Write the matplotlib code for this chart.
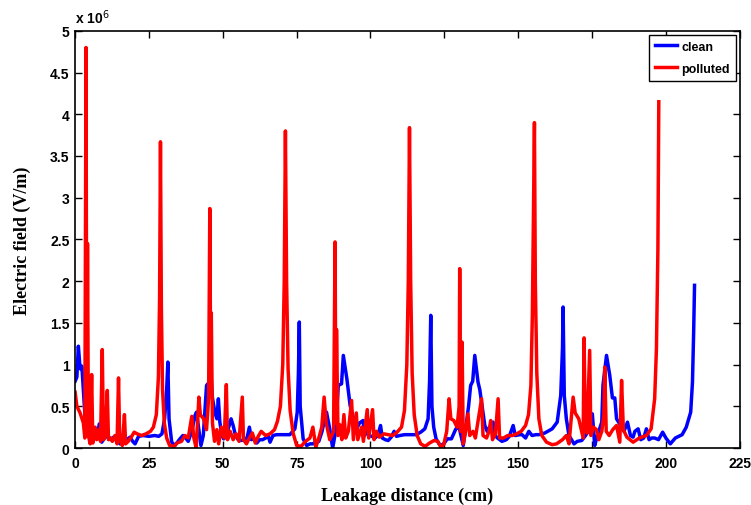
import matplotlib.pyplot as plt

# electric field along the leakage path, values in units of 1e6 V/m
clean_x = [0.0, 0.6, 1.1, 1.7, 2.3, 2.8, 3.4, 4.5, 5.2, 6.2, 7.3, 8.2, 9.0, 10.0, 11.0, 12.0,
           13.0, 14.0, 15.2, 16.5, 17.5, 18.6, 19.5, 20.3, 21.5, 23.0, 25.0, 27.0, 28.3, 29.4,
           30.3, 31.0, 31.4, 31.8, 32.7, 33.8, 35.5, 36.5, 37.2, 38.3, 39.5, 40.6, 41.1, 41.7,
           42.6, 43.4, 44.5, 45.4, 45.8, 46.5, 47.3, 48.0, 48.5, 49.0, 49.7, 50.3, 51.2, 52.0,
           52.8, 53.5, 54.3, 55.2, 56.2, 57.3, 58.2, 59.0, 59.7, 60.5, 61.5, 62.5, 63.5, 64.5,
           65.4, 66.0, 67.0, 68.2, 70.0, 72.7, 74.4, 75.2, 75.6, 75.9, 76.2, 77.2, 78.4, 79.5,
           80.5, 81.5, 82.5, 83.6, 84.5, 85.1, 86.2, 87.2, 88.2, 89.1, 90.2, 90.8, 92.0, 93.1,
           94.0, 95.3, 96.3, 97.5, 98.0, 98.7, 99.5, 100.5, 101.5, 102.5, 103.4, 104.0, 105.0,
           106.0, 107.0, 108.0, 108.8, 110.0, 111.5, 112.7, 114.0, 115.5, 117.0, 118.4, 119.5,
           120.0, 120.4, 120.8, 121.4, 122.2, 123.2, 124.1, 125.0, 126.0, 127.4, 128.9, 130.0,
           131.4, 132.5, 133.2, 133.9, 134.6, 135.3, 136.4, 137.0, 137.6, 138.7, 139.5, 140.3,
           141.5, 142.2, 143.0, 144.5, 146.0, 147.0, 148.3, 149.0, 150.5, 151.3, 152.5, 153.6,
           154.7, 156.0, 157.0, 159.0, 161.5, 163.2, 164.4, 165.0, 165.2, 165.6, 166.3, 167.2,
           168.9, 170.0, 171.5, 172.8, 174.2, 175.1, 175.9, 176.8, 178.3, 178.7, 179.9, 181.0,
           181.9, 182.7, 183.3, 184.7, 185.8, 187.0, 188.0, 188.9, 189.5, 190.6, 191.5, 192.5,
           193.4, 194.3, 195.2, 196.2, 197.5, 198.9, 200.0, 201.5, 203.2, 205.5, 206.9, 208.4,
           209.0, 209.4, 209.7]
clean_y = [0.80, 0.85, 1.22, 0.95, 0.98, 0.70, 0.35, 0.27, 0.07, 0.23, 0.11, 0.29, 0.07, 0.12,
           0.15, 0.10, 0.13, 0.10, 0.05, 0.12, 0.10, 0.13, 0.08, 0.05, 0.14, 0.15, 0.14, 0.15,
           0.14, 0.17, 0.35, 0.70, 1.03, 0.35, 0.07, 0.03, 0.11, 0.15, 0.13, 0.08, 0.20, 0.39,
           0.43, 0.27, 0.03, 0.15, 0.75, 0.79, 0.95, 0.60, 0.43, 0.35, 0.59, 0.31, 0.15, 0.11,
           0.14, 0.25, 0.35, 0.27, 0.15, 0.10, 0.09, 0.10, 0.12, 0.25, 0.10, 0.12, 0.06, 0.10,
           0.10, 0.12, 0.14, 0.07, 0.15, 0.16, 0.16, 0.16, 0.23, 0.43, 0.90, 1.51, 0.50, 0.11,
           0.03, 0.05, 0.05, 0.07, 0.08, 0.20, 0.35, 0.43, 0.23, 0.00, 0.20, 0.75, 0.77, 1.11,
           0.83, 0.51, 0.39, 0.23, 0.30, 0.33, 0.15, 0.20, 0.15, 0.14, 0.12, 0.15, 0.27, 0.12,
           0.10, 0.09, 0.13, 0.20, 0.14, 0.15, 0.16, 0.16, 0.16, 0.16, 0.19, 0.23, 0.35, 0.80,
           1.59, 0.50, 0.25, 0.11, 0.05, 0.03, 0.06, 0.11, 0.11, 0.23, 0.25, 0.03, 0.31, 0.50,
           0.75, 0.80, 1.11, 0.79, 0.70, 0.55, 0.27, 0.20, 0.25, 0.31, 0.15, 0.12, 0.08, 0.10,
           0.14, 0.27, 0.15, 0.16, 0.16, 0.12, 0.20, 0.15, 0.16, 0.16, 0.18, 0.23, 0.31, 0.63,
           1.20, 1.69, 0.63, 0.35, 0.15, 0.05, 0.08, 0.09, 0.15, 0.23, 0.41, 0.03, 0.15, 0.31,
           0.75, 1.11, 0.87, 0.60, 0.60, 0.35, 0.27, 0.20, 0.31, 0.15, 0.13, 0.20, 0.23, 0.10,
           0.12, 0.23, 0.10, 0.12, 0.12, 0.10, 0.19, 0.12, 0.05, 0.12, 0.16, 0.25, 0.43, 0.79,
           1.39, 1.95]

polluted_x = [0.0, 0.6, 1.7, 2.8, 3.3, 3.7, 3.95, 4.2, 4.5, 5.1, 5.6, 6.0, 6.8, 7.3, 8.0, 8.6,
              9.2, 9.6, 10.2, 10.9, 11.3, 12.0, 12.6, 13.5, 14.2, 14.7, 15.1, 16.0, 16.7, 17.1,
              18.0, 19.0, 20.0, 21.0, 22.5, 24.0, 25.5, 26.5, 27.5, 28.2, 28.6, 28.9, 29.2, 29.6,
              30.2, 31.0, 32.0, 33.5, 34.5, 36.0, 37.2, 38.3, 39.5, 40.2, 41.0, 41.9, 42.4, 43.5,
              44.5, 45.2, 45.6, 45.9, 46.1, 46.5, 47.2, 48.0, 48.6, 49.5, 50.5, 51.2, 51.6, 52.5,
              53.5, 54.5, 55.5, 56.6, 57.0, 58.0, 59.0, 60.0, 61.0, 62.0, 63.0, 64.5, 66.0, 67.5,
              68.5, 69.5, 70.3, 70.8, 71.2, 71.6, 72.1, 72.8, 73.8, 75.0, 76.5, 78.0, 79.5, 80.5,
              81.5, 82.5, 83.5, 84.3, 85.0, 86.2, 87.5, 88.0, 88.3, 88.5, 89.0, 89.6, 90.3, 91.0,
              91.6, 92.5, 93.6, 94.2, 95.2, 95.7, 97.0, 97.6, 98.9, 99.4, 100.7, 101.2, 102.0,
              103.0, 104.5, 106.0, 107.5, 109.0, 110.5, 111.5, 112.3, 112.8, 113.2, 113.6, 114.1,
              114.8, 115.8, 117.0, 118.5, 120.0, 121.5, 122.8, 123.8, 124.8, 125.8, 126.6, 127.2,
              128.2, 129.3, 130.0, 130.2, 130.5, 131.0, 131.4, 132.2, 133.0, 133.6, 134.7, 135.5,
              136.3, 137.6, 138.1, 139.3, 140.1, 140.7, 141.3, 142.3, 143.2, 143.7, 145.0, 146.5,
              148.0, 149.5, 151.0, 152.5, 153.5, 154.3, 154.8, 155.2, 155.5, 155.8, 156.3, 157.0,
              158.0, 159.6, 161.5, 163.0, 165.0, 166.3, 167.2, 168.6, 169.3, 170.5, 171.5, 172.0,
              172.3, 172.7, 173.3, 174.2, 174.6, 175.5, 176.5, 177.3, 178.3, 179.0, 179.3, 179.8,
              180.8, 182.0, 183.3, 184.4, 185.0, 185.6, 186.8, 188.9, 191.0, 193.4, 195.0, 196.2,
              196.8, 197.3, 197.6]
polluted_y = [0.67, 0.50, 0.42, 0.30, 0.12, 4.80, 0.25, 2.45, 0.15, 0.05, 0.88, 0.06, 0.25, 0.10,
              0.22, 0.08, 1.18, 0.10, 0.15, 0.69, 0.10, 0.12, 0.08, 0.15, 0.05, 0.84, 0.10, 0.03,
              0.40, 0.05, 0.08, 0.13, 0.19, 0.17, 0.15, 0.17, 0.20, 0.25, 0.40, 0.85, 1.80, 3.67,
              1.70, 0.70, 0.30, 0.12, 0.03, 0.02, 0.06, 0.08, 0.15, 0.12, 0.38, 0.12, 0.00, 0.61,
              0.40, 0.35, 0.22, 0.60, 2.87, 0.90, 1.62, 0.30, 0.08, 0.22, 0.05, 0.25, 0.12, 0.76,
              0.10, 0.20, 0.10, 0.17, 0.08, 0.61, 0.10, 0.05, 0.12, 0.18, 0.06, 0.14, 0.20, 0.15,
              0.17, 0.22, 0.32, 0.50, 1.00, 2.00, 3.80, 2.00, 0.95, 0.45, 0.18, 0.03, 0.02, 0.08,
              0.12, 0.25, 0.01, 0.12, 0.25, 0.61, 0.30, 0.10, 0.20, 2.47, 0.30, 1.42, 0.15, 0.28,
              0.10, 0.40, 0.12, 0.20, 0.57, 0.10, 0.42, 0.10, 0.25, 0.08, 0.46, 0.12, 0.46, 0.10,
              0.20, 0.13, 0.17, 0.16, 0.15, 0.19, 0.25, 0.45, 1.00, 2.00, 3.84, 2.00, 0.90, 0.40,
              0.15, 0.05, 0.02, 0.06, 0.09, 0.08, 0.01, 0.04, 0.20, 0.59, 0.35, 0.33, 0.25, 0.50,
              2.15, 0.20, 1.27, 0.05, 0.20, 0.41, 0.15, 0.20, 0.12, 0.30, 0.59, 0.15, 0.12, 0.20,
              0.33, 0.10, 0.17, 0.59, 0.12, 0.12, 0.15, 0.15, 0.17, 0.20, 0.27, 0.40, 0.75, 1.60,
              2.92, 3.90, 2.00, 0.90, 0.35, 0.15, 0.07, 0.04, 0.05, 0.10, 0.15, 0.05, 0.61, 0.42,
              0.35, 0.20, 0.12, 1.32, 0.30, 0.18, 1.17, 0.15, 0.25, 0.22, 0.10, 0.20, 0.40, 0.97,
              0.20, 0.15, 0.22, 0.27, 0.07, 0.81, 0.22, 0.13, 0.07, 0.12, 0.15, 0.23, 0.59, 1.19,
              2.39, 4.15]

x_ticks = [0, 25, 50, 75, 100, 125, 150, 175, 200, 225]
y_ticks = [0, 0.5, 1, 1.5, 2, 2.5, 3, 3.5, 4, 4.5, 5]
y_tick_labels = ['0', '0.5', '1', '1.5', '2', '2.5', '3', '3.5', '4', '4.5', '5']

tick_font = dict(family='Liberation Sans', weight='bold', size=10)
label_font = dict(family='Liberation Serif', weight='bold', size=13)

fig = plt.figure(figsize=(7.51, 5.06), dpi=100)
ax = fig.add_axes([0.1, 0.1126, 0.885, 0.8245])

ax.plot(clean_x, clean_y, color='#0000ff', lw=2.5, label='clean')
ax.plot(polluted_x, polluted_y, color='#ff0000', lw=2.5, label='polluted')

ax.set_xlim(0, 225)
ax.set_ylim(0, 5)
ax.set_xticks(x_ticks)
ax.set_xticklabels([str(t) for t in x_ticks], **tick_font)
ax.set_yticks(y_ticks)
ax.set_yticklabels(y_tick_labels, **tick_font)
ax.tick_params(direction='in', top=True, right=True, length=5, width=1)
ax.tick_params(axis='x', pad=6)
ax.tick_params(axis='y', pad=4)
for s in ax.spines.values():
    s.set_linewidth(1.2)

ax.text(0, 1.012, r'x 10$^{6}$', transform=ax.transAxes, ha='left', va='bottom',
        family='Liberation Sans', weight='bold', size=10)

ax.set_xlabel('Leakage distance (cm)', labelpad=12, **label_font)
ax.set_ylabel('Electric field (V/m)', labelpad=14, **label_font)

leg = ax.legend(loc='upper right', fancybox=False, edgecolor='black', framealpha=1,
                handlelength=1.8, handletextpad=0.3, borderpad=0.5, labelspacing=0.8,
                borderaxespad=0.3,
                prop=dict(family='Liberation Sans', weight='bold', size=9))
leg.get_frame().set_linewidth(1)

plt.savefig('out.png')
